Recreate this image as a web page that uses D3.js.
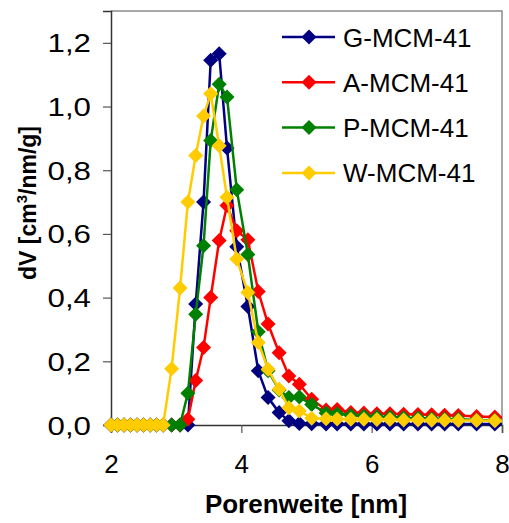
<!DOCTYPE html>
<html>
<head>
<meta charset="utf-8">
<script src="https://cdn.jsdelivr.net/npm/d3@7"></script>
<style>
  body { margin: 0; background: #fff; }
  text { font-family: "Liberation Sans", Arial, sans-serif; }
</style>
</head>
<body>
<div id="chart"></div>
<script>
// pore width grid [nm], shared by all four samples
const poreWidth = [2.0, 2.1, 2.2, 2.3, 2.4, 2.5, 2.6, 2.7, 2.8, 2.93, 3.06, 3.18, 3.30, 3.42, 3.53, 3.66,
    3.78, 3.93, 4.10, 4.26, 4.41, 4.58, 4.73, 4.89, 5.08, 5.30, 5.47, 5.68, 5.88, 6.08, 6.28,
    6.49, 6.71, 6.92, 7.12, 7.33, 7.61, 7.89, 8.2];

// dV [cm3/nm/g]
const gMCM = [0, 0, 0, 0, 0, 0, 0, 0, 0, 0, 0, 0, 0.38, 0.70, 1.145, 1.166,
    0.87, 0.56, 0.372, 0.17, 0.086, 0.039, 0.013, 0.005, 0.004, 0.003, 0.003, 0.003, 0.003, 0.003, 0.003,
    0.003, 0.003, 0.003, 0.003, 0.003, 0.003, 0.003, 0.003];
const aMCM = [0, 0, 0, 0, 0, 0, 0, 0, 0, 0, 0, 0.018, 0.14, 0.243, 0.40, 0.579,
    0.689, 0.61, 0.582, 0.419, 0.317, 0.227, 0.154, 0.128, 0.081, 0.047, 0.049, 0.039, 0.038, 0.035, 0.035,
    0.034, 0.033, 0.032, 0.031, 0.030, 0.027, 0.025, 0.022];
const pMCM = [0, 0, 0, 0, 0, 0, 0, 0, 0, 0, 0, 0.10, 0.348, 0.563, 0.893, 1.07,
    1.03, 0.739, 0.535, 0.293, 0.17, 0.11, 0.086, 0.088, 0.064, 0.038, 0.035, 0.031, 0.028, 0.026, 0.025,
    0.023, 0.022, 0.02, 0.019, 0.018, 0.016, 0.015, 0.013];
const wMCM = [0, 0, 0, 0, 0, 0, 0, 0, 0, 0.177, 0.43, 0.70, 0.846, 0.97, 1.04, 0.877,
    0.715, 0.521, 0.416, 0.259, 0.175, 0.112, 0.054, 0.044, 0.021, 0.02, 0.019, 0.018, 0.018, 0.017, 0.017,
    0.016, 0.016, 0.015, 0.015, 0.014, 0.014, 0.013, 0.012];

const seriesNames = ["G-MCM-41", "A-MCM-41", "P-MCM-41", "W-MCM-41"];
const seriesColors = ["#000080", "#ff0000", "#008000", "#ffcc00"];
const xTicks = [2, 4, 6, 8];
const yTicks = [0, 0.2, 0.4, 0.6, 0.8, 1.0, 1.2];

const width = 509, height = 523;
const margin = {top: 11, right: 7, bottom: 98, left: 111};

let series = [gMCM, aMCM, pMCM, wMCM].map(function (vals, i) {
    return {
        name: seriesNames[i],
        color: seriesColors[i],
        points: vals.map(function (v, j) { return {x: poreWidth[j], y: v}; })
    };
});

let svg = d3.select("#chart")
    .append("svg")
    .attr("width", width)
    .attr("height", height);

let x = d3.scaleLinear().domain([2, 8]).range([margin.left, width - margin.right]);
let y = d3.scaleLinear().domain([0, 1.3]).range([height - margin.bottom, margin.top]);

// plot box (top + right are light grey)
svg.append("path")
    .attr("d", `M${x(2)},${y(1.3)} H${x(8)} V${y(0)}`)
    .attr("fill", "none")
    .attr("stroke", "#8c8c8c")
    .attr("stroke-width", 1.5);

svg.append("clipPath").attr("id", "clip")
    .append("rect")
    .attr("x", x(2) - 8).attr("y", y(1.3))
    .attr("width", x(8) - x(2) + 8).attr("height", y(0) - y(1.3) + 10);

// axes
let xAxis = svg.append("g")
    .attr("transform", `translate(0, ${y(0)})`)
    .call(d3.axisBottom(x).tickValues(xTicks).tickSize(8).tickFormat(d3.format("d")));
let yAxis = svg.append("g")
    .attr("transform", `translate(${x(2)}, 0)`)
    .call(d3.axisLeft(y).tickValues(yTicks).tickSize(8).tickFormat(function (d) {
        return d3.format(".1f")(d).replace(".", ",");
    }));

[xAxis, yAxis].forEach(function (g) {
    g.select(".domain").attr("stroke", "#333").attr("stroke-width", 1.5);
    g.selectAll(".tick line").attr("stroke", "#555").attr("stroke-width", 1.2);
    g.selectAll(".tick text")
        .attr("fill", "#000")
        .style("font-family", "Liberation Sans, Arial, sans-serif")
        .style("font-size", "26px");
});
xAxis.selectAll(".tick text").attr("dy", null).attr("y", 48);
// tick labels in the original are drawn a bit wide -> stretch horizontally
const yLabelStretch = 1.25;
yAxis.selectAll(".tick text")
    .style("font-size", "25px")
    .attr("transform", `scale(${yLabelStretch}, 1)`)
    .attr("x", -20 / yLabelStretch)
    .attr("dy", "0.36em");

// lines + diamond markers
let line = d3.line()
    .x(function (d) { return x(d.x); })
    .y(function (d) { return y(d.y); });
let diamond = "M0,-7.5L7.5,0L0,7.5L-7.5,0Z";

let plot = svg.append("g").attr("clip-path", "url(#clip)");
series.forEach(function (s) {
    let g = plot.append("g");
    g.append("path")
        .datum(s.points)
        .attr("d", line)
        .attr("fill", "none")
        .attr("stroke", s.color)
        .attr("stroke-width", 2.5);
    g.selectAll("path.mark")
        .data(s.points)
        .enter()
        .append("path")
        .attr("class", "mark")
        .attr("d", diamond)
        .attr("transform", function (d) { return `translate(${x(d.x)}, ${y(d.y)})`; })
        .attr("fill", s.color);
});

// legend
let legend = svg.append("g");
series.forEach(function (s, i) {
    let ly = 37 + i * 45.3;
    legend.append("line")
        .attr("x1", 282).attr("x2", 335)
        .attr("y1", ly).attr("y2", ly)
        .attr("stroke", s.color)
        .attr("stroke-width", 2.5);
    legend.append("path")
        .attr("d", diamond)
        .attr("transform", `translate(309, ${ly})`)
        .attr("fill", s.color);
    legend.append("text")
        .attr("x", 343)
        .attr("y", ly + 9.5)
        .style("font-size", "26px")
        .text(s.name);
});

// axis titles
svg.append("text")
    .attr("x", 306)
    .attr("y", 513)
    .attr("text-anchor", "middle")
    .style("font-size", "26px")
    .style("font-weight", "bold")
    .text("Porenweite [nm]");

let yTitle = svg.append("text")
    .attr("transform", "translate(36, 203) rotate(-90)")
    .attr("text-anchor", "middle")
    .style("font-size", "23px")
    .style("font-weight", "bold");
yTitle.append("tspan").text("dV [cm");
yTitle.append("tspan").attr("dy", -9).style("font-size", "15px").text("3");
yTitle.append("tspan").attr("dy", 9).text("/nm/g]");
</script>
</body>
</html>
